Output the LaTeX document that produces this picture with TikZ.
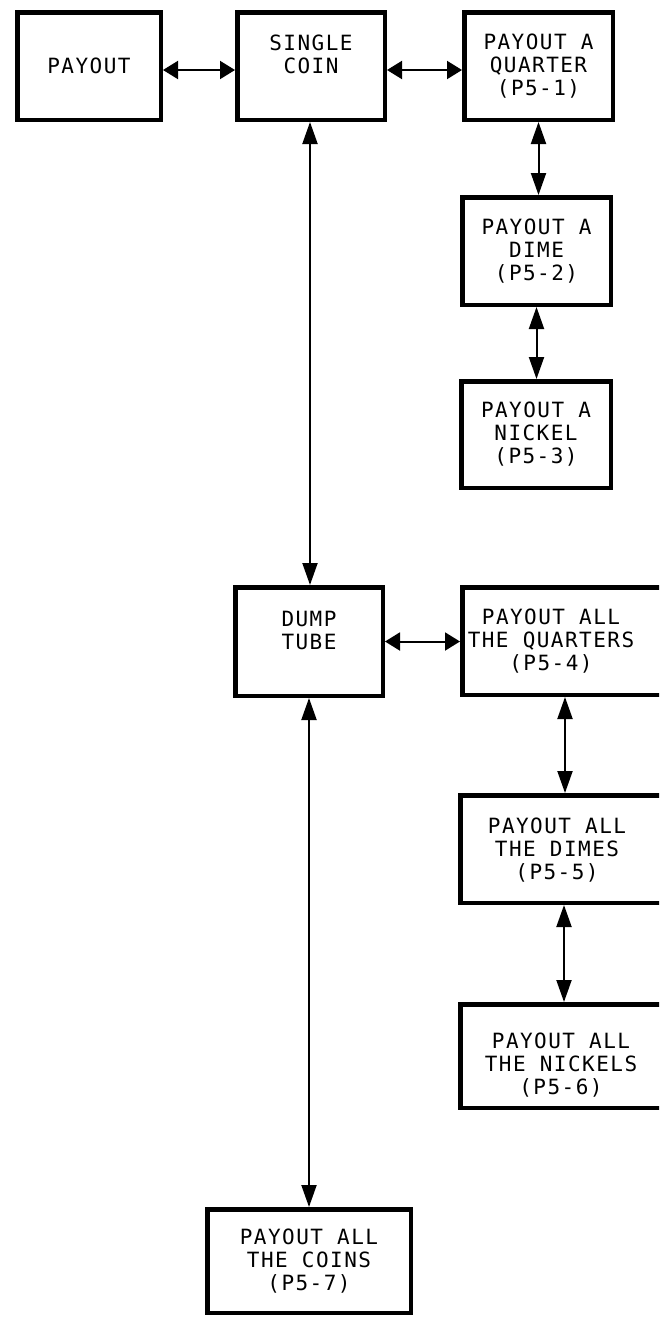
\documentclass[tikz,border=0pt]{standalone}
\usepackage{fontspec}
\newfontfamily\lbl[LetterSpace=7]{DejaVu Sans Mono}
\usetikzlibrary{arrows.meta}
\tikzset{
  x=1pt, y=-1pt,
  blk/.style={draw=black, line width=4.5pt, fill=white, rectangle, inner sep=0pt,
    align=center, font=\lbl\fontsize{21}{23}\selectfont},
  txt/.style={align=center, inner sep=0pt, font=\lbl\fontsize{21}{23}\selectfont},
  hcon/.style={line width=2pt, {Triangle[length=15pt,width=18pt]}-{Triangle[length=15pt,width=18pt]}},
  vcon/.style={line width=2pt, {Triangle[length=22pt,width=15pt]}-{Triangle[length=22pt,width=15pt]}}
}
\begin{document}
\begin{tikzpicture}
\useasboundingbox (0,0) rectangle (659,1318);
\clip (0,0) rectangle (659,1318);
\fill[white] (0,0) rectangle (659,1318);

% top row
\node[blk, minimum width=143.5pt, minimum height=107.5pt] (payout) at (89,66) {PAYOUT};
\node[blk, minimum width=147.5pt, minimum height=107.5pt] (single) at (311,66) {SINGLE\\COIN\\\mbox{}};
\node[blk, minimum width=148.5pt, minimum height=107.5pt] (quarter) at (538.5,66) {PAYOUT A\\QUARTER\\(P5-1)};
\node[blk, minimum width=148.5pt, minimum height=107.5pt] (dime) at (536.5,251) {PAYOUT A\\DIME\\(P5-2)};
\node[blk, minimum width=149.5pt, minimum height=106.5pt] (nickel) at (536,434.5) {PAYOUT A\\NICKEL\\(P5-3)};

% middle
\node[blk, minimum width=147.5pt, minimum height=108.5pt] (dump) at (309,641.5) {DUMP\\TUBE\\\mbox{}};
\node[blk, minimum width=255.5pt, minimum height=107.5pt] (qsbox) at (590,641) {};
\node[txt] (qstext) at (551,641) {PAYOUT ALL\\THE QUARTERS\\(P5-4)};
\node[blk, minimum width=257.5pt, minimum height=107.5pt] (dsbox) at (589,849) {};
\node[txt] (dstext) at (557,850) {PAYOUT ALL\\THE DIMES\\(P5-5)};
\node[blk, minimum width=257.5pt, minimum height=103.5pt] (nsbox) at (589,1056) {};
\node[txt] (nstext) at (561,1065) {PAYOUT ALL\\THE NICKELS\\(P5-6)};

% bottom
\node[blk, minimum width=203.5pt, minimum height=103.5pt] (coins) at (309,1261) {PAYOUT ALL\\THE COINS\\(P5-7)};

% connectors
\draw[hcon] ([yshift=-4pt]payout.east) -- ([yshift=-4pt]single.west);
\draw[hcon] ([yshift=-4pt]single.east) -- ([yshift=-4pt]quarter.west);
\draw[vcon] (quarter.south) -- (quarter.south |- dime.north);
\draw[vcon] (dime.south) -- (dime.south |- nickel.north);
\draw[vcon] ([xshift=-1pt]single.south) -- ([xshift=-1pt]single.south |- dump.north);
\draw[hcon] (dump.east) -- (dump.east -| qsbox.west);
\coordinate (qsarr) at ([xshift=105pt]qsbox.south west);
\draw[vcon] (qsarr) -- (qsarr |- dsbox.north);
\coordinate (dsarr) at ([xshift=106pt]dsbox.south west);
\draw[vcon] (dsarr) -- (dsarr |- nsbox.north);
\draw[vcon] (dump.south) -- (dump.south |- coins.north);
\end{tikzpicture}
\end{document}
